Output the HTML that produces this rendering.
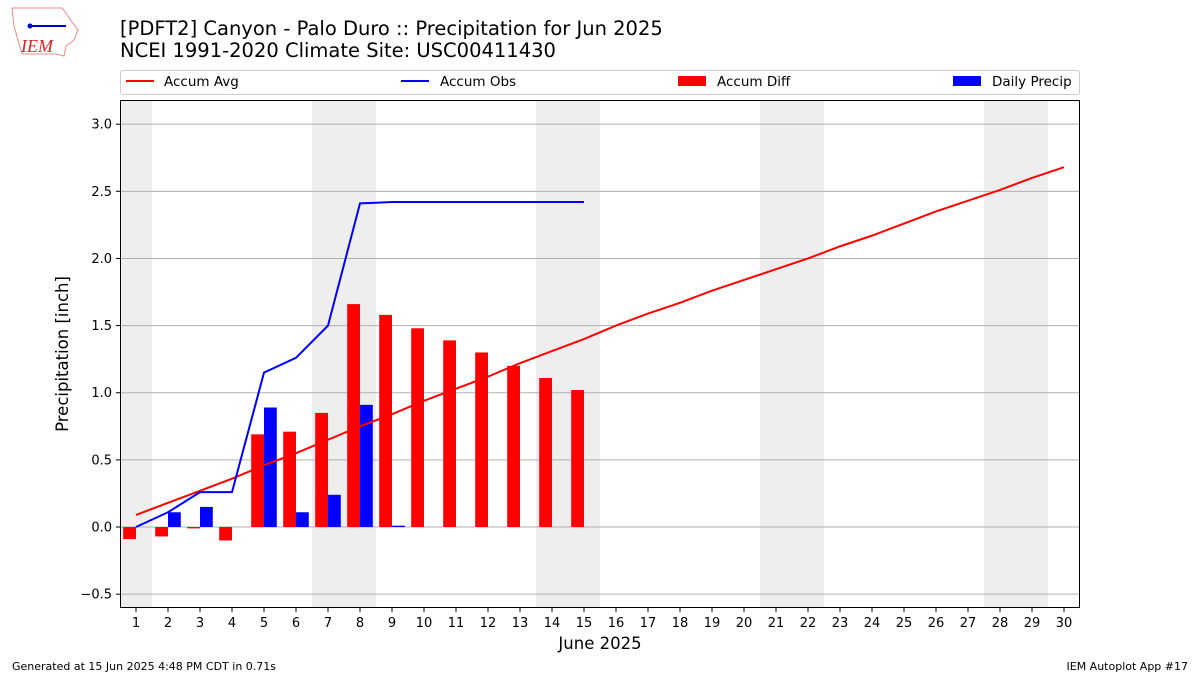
<!DOCTYPE html>
<html><head><meta charset="utf-8">
<style>
html,body{margin:0;padding:0;background:#fff;}
body{width:1200px;height:675px;overflow:hidden;font-family:"DejaVu Sans","Liberation Sans",sans-serif;}
</style></head>
<body>
<svg id="chart" width="1200" height="675" xmlns="http://www.w3.org/2000/svg" font-family="DejaVu Sans, Liberation Sans, sans-serif">
<g>
<path d="M12,8 L62,8 L68,16 L72,22 L78,30 L74,40 L66,46 L64,56 L56,54 L22,54 L18,40 L14,26 Z" fill="none" stroke="#e88" stroke-width="1"/>
<line x1="28" y1="26" x2="66" y2="26" stroke="#00c" stroke-width="2"/>
<circle cx="30" cy="26" r="2.5" fill="#00c"/>
<text x="21" y="52" font-family="Liberation Serif, serif" font-style="italic" font-size="18" fill="#d22">IEM</text>
</g>
<text x="120" y="35" font-size="19.5">[PDFT2] Canyon - Palo Duro :: Precipitation for Jun 2025</text>
<text x="120" y="57" font-size="19.5">NCEI 1991-2020 Climate Site: USC00411430</text>
<g id="legend">
<rect x="120.5" y="70.5" width="959" height="24" rx="2" fill="#fff" stroke="#ccc"/>
<g><line x1="126" y1="81" x2="154" y2="81" stroke="red" stroke-width="2"/><text x="164" y="86" font-size="13.5">Accum Avg</text></g>
<g><line x1="401" y1="81" x2="429" y2="81" stroke="blue" stroke-width="2"/><text x="440" y="86" font-size="13.5">Accum Obs</text></g>
<g><rect x="678" y="76" width="28" height="10" fill="red"/><text x="717" y="86" font-size="13.5">Accum Diff</text></g>
<g><rect x="953" y="76" width="28" height="10" fill="blue"/><text x="992" y="86" font-size="13.5">Daily Precip</text></g>
</g>
<g id="plot"></g>
<text x="600" y="649" font-size="16.5" text-anchor="middle">June 2025</text>
<text x="0" y="0" font-size="16.5" text-anchor="middle" transform="translate(68,354) rotate(-90)">Precipitation [inch]</text>
<text x="12" y="670" font-size="11">Generated at 15 Jun 2025 4:48 PM CDT in 0.71s</text>
<text x="1188" y="670" font-size="11" text-anchor="end">IEM Autoplot App #17</text>
</svg>
<script>
const days = Array.from({length:30},(_,i)=>i+1);
const accumAvg = [0.09,0.18,0.27,0.36,0.46,0.55,0.65,0.75,0.84,0.94,1.03,1.12,1.22,1.31,1.40,1.50,1.59,1.67,1.76,1.84,1.92,2.00,2.09,2.17,2.26,2.35,2.43,2.51,2.60,2.68];
const accumObs = [0,0.11,0.26,0.26,1.15,1.26,1.50,2.41,2.42,2.42,2.42,2.42,2.42,2.42,2.42];
const accumDiff = [-0.09,-0.07,-0.01,-0.10,0.69,0.71,0.85,1.66,1.58,1.48,1.39,1.30,1.20,1.11,1.02];
const dailyPrecip = [0,0.11,0.15,0,0.89,0.11,0.24,0.91,0.01,0,0,0,0,0,0];
const yTicks = [-0.5,0,0.5,1.0,1.5,2.0,2.5,3.0];
const weekendDays = [1,7,8,14,15,21,22,28,29];

const NS="http://www.w3.org/2000/svg";
const L=120,R=1080,T=100,B=608,yMin=-0.603,yMax=3.18;
const xS=d=>L+(d-0.5)*(R-L)/30;
const yS=v=>B-(v-yMin)*(B-T)/(yMax-yMin);
const plot=document.getElementById('plot');
function mk(tag,attrs){const e=document.createElementNS(NS,tag);for(const k in attrs)e.setAttribute(k,attrs[k]);plot.appendChild(e);return e;}
weekendDays.forEach(d=>{const e=mk('rect',{x:xS(d-0.5),y:T,width:xS(d+0.5)-xS(d-0.5),height:B-T,fill:'#eee'});

});
yTicks.forEach(v=>{const g=mk('line',{x1:L,x2:R,y1:yS(v),y2:yS(v),stroke:'#b0b0b0','stroke-width':1});


mk('line',{x1:L-4,x2:L,y1:yS(v),y2:yS(v),stroke:'#000'});
const t=mk('text',{x:L-8,y:yS(v)+4.5,'font-size':13,'text-anchor':'end'});t.textContent=v.toFixed(1).replace('-','\u2212');

});
const bw=(R-L)/30*0.4;
accumDiff.forEach((v,i)=>{const d=days[i];const y0=yS(0),y1=yS(v);const e=mk('rect',{x:xS(d)-bw,y:Math.min(y0,y1),width:bw,height:Math.abs(y1-y0),fill:'red'});

});
dailyPrecip.forEach((v,i)=>{const d=days[i];const y0=yS(0),y1=yS(v);const e=mk('rect',{x:xS(d),y:Math.min(y0,y1),width:bw,height:Math.abs(y1-y0),fill:'blue'});

});
const avgLine=mk('polyline',{points:accumAvg.map((v,i)=>xS(days[i])+','+yS(v)).join(' '),fill:'none',stroke:'red','stroke-width':2});


const obsLine=mk('polyline',{points:accumObs.map((v,i)=>xS(days[i])+','+yS(v)).join(' '),fill:'none',stroke:'blue','stroke-width':2});


days.forEach(d=>{mk('line',{x1:xS(d),x2:xS(d),y1:B,y2:B+4,stroke:'#000'});
const t=mk('text',{x:xS(d),y:B+19,'font-size':13,'text-anchor':'middle'});t.textContent=d;

});
const fr=mk('rect',{x:L+0.5,y:T+0.5,width:R-L-1,height:B-T-1,fill:'none',stroke:'#000','stroke-width':1});


</script>
</body></html>
